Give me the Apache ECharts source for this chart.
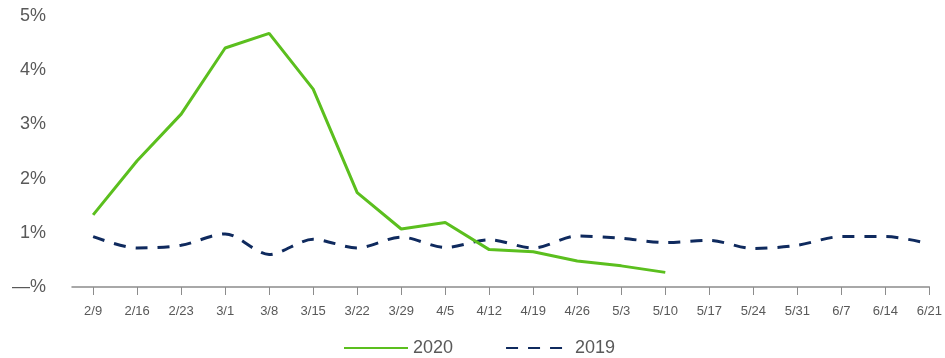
<!DOCTYPE html>
<html><head><meta charset="utf-8">
<script src="https://cdn.jsdelivr.net/npm/echarts@6/dist/echarts.min.js"></script>
<style>html,body{margin:0;padding:0;background:#fff}#c{width:945px;height:358px}</style>
</head><body><div id="c"></div>
<script>
var categories = ['2/9','2/16','2/23','3/1','3/8','3/15','3/22','3/29','4/5','4/12','4/19','4/26','5/3','5/10','5/17','5/24','5/31','6/7','6/14','6/21'];
var values2020 = [1.33,2.33,3.19,4.41,4.68,3.65,1.74,1.07,1.19,0.69,0.65,0.48,0.39,0.27];
var values2019 = [0.93,0.72,0.77,0.98,0.60,0.88,0.72,0.92,0.73,0.87,0.72,0.94,0.90,0.82,0.86,0.71,0.77,0.93,0.93,0.80];
var yTicks = {0:'—%',1:'1%',2:'2%',3:'3%',4:'4%',5:'5%'};

var idx = categories.map(function(_, i){ return i; });
function pairs(arr){ return arr.map(function(v, i){ return [i, v]; }); }

var chart = echarts.init(document.getElementById('c'));
chart.setOption({
  animation: false,
  textStyle: {fontFamily: 'Liberation Sans, Arial, sans-serif'},
  grid: {left: 72, right: 11, top: 16, bottom: 71},
  legend: {
    top: 334, left: 338, itemWidth: 64, itemHeight: 12, itemGap: 52,
    itemStyle: {opacity: 0},
    textStyle: {fontSize: 18, color: '#595959', fontFamily: 'Liberation Sans, Arial, sans-serif'},
    data: ['2020','2019']
  },
  xAxis: {
    type: 'value', min: -0.48, max: 19,
    splitLine: {show: false},
    axisLine: {lineStyle: {color: '#8c8c8c', width: 1.5}},
    axisTick: {length: 8, customValues: idx, lineStyle: {color: '#8c8c8c'}},
    axisLabel: {color: '#595959', fontSize: 13, margin: 18, customValues: idx,
      alignMinLabel: 'center', alignMaxLabel: 'center',
      formatter: function(v){ return categories[Math.round(v)]; }}
  },
  yAxis: {
    type: 'value', min: 0, max: 5, interval: 1,
    axisLine: {show: false}, axisTick: {show: false}, splitLine: {show: false},
    axisLabel: {color: '#595959', fontSize: 18, margin: 26, formatter: function(v){return yTicks[v];}}
  },
  series: [
    {name: '2020', type: 'line', data: pairs(values2020), symbol: 'none', z: 3,
     lineStyle: {color: '#5bbf1e', width: 3}, itemStyle: {color: '#5bbf1e'}},
    {name: '2019', type: 'line', data: pairs(values2019), symbol: 'none', smooth: 0.3, z: 2,
     lineStyle: {color: '#0f2a5e', width: 3, type: [12, 10]}, itemStyle: {color: '#0f2a5e'}}
  ]
});
</script></body></html>
